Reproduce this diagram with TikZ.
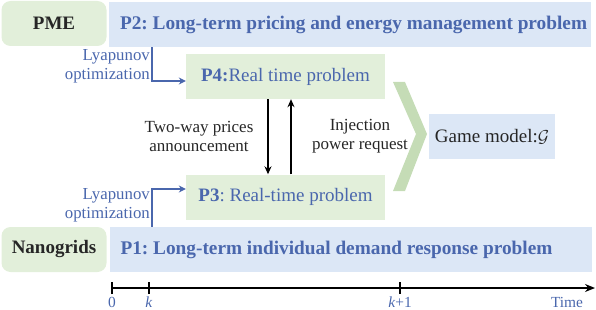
\documentclass[tikz,border=0pt]{standalone}
\usepackage{fontspec}
\setmainfont{Liberation Serif}
\usetikzlibrary{arrows.meta}
\definecolor{tblue}{HTML}{4A67AD}
\definecolor{bfill}{HTML}{DCE7F6}
\definecolor{gfill}{HTML}{E2EFDA}
\definecolor{chev}{HTML}{C5DCB6}
\frenchspacing
\begin{document}
\begin{tikzpicture}[x=1pt,y=-1pt,
  actor/.style={fill=gfill,rounded corners=9pt,minimum width=105pt,minimum height=45pt,inner sep=0pt,font=\fontsize{19}{19}\selectfont\bfseries,text=black!85},
  longbox/.style={fill=bfill,minimum width=482pt,minimum height=45pt,inner sep=0pt},
  longtext/.style={anchor=west,inner sep=0pt,font=\fontsize{19.3}{20}\selectfont\bfseries,text=tblue},
  rtbox/.style={fill=gfill,minimum width=199pt,minimum height=45pt,inner sep=0pt,font=\fontsize{19}{19}\selectfont,text=tblue},
  lyap/.style={align=right,font=\fontsize{16.8}{19}\selectfont,text=tblue,inner sep=0pt},
  lbl/.style={align=center,font=\fontsize{17}{19}\selectfont,text=black!85,inner sep=0pt},
  barrow/.style={line width=1.3pt,-{Stealth[length=8pt,width=7pt]}},
  larrow/.style={draw=tblue,line width=1.2pt,-{Stealth[length=7pt,width=7pt]}},
  tlbl/.style={font=\fontsize{15.4}{15.4}\selectfont,text=tblue,inner sep=0pt}
]
\useasboundingbox (0,0) rectangle (596,310);
% actors
\node[actor] (pme) at (54,23.5) {PME};
\node[actor] (nano) at (54,249.5) {Nanogrids};
% long-term boxes
\node[longbox] (p2) at (350,24.5) {};
\node[longtext] (p2t) at ([xshift=11pt]p2.west) {P2: Long-term pricing and energy management problem};
\node[longbox] (p1) at (350.5,249.5) {};
\node[longtext] (p1t) at ([xshift=11pt]p1.west) {P1: Long-term individual demand response problem};
% real-time boxes
\node[rtbox] (p4) at (285.5,76.5) {\textbf{P4:}Real time problem};
\node[rtbox] (p3) at (285.5,197) {\textbf{P3}: Real-time problem};
% game model
\node[fill=bfill,minimum width=126pt,minimum height=45pt,inner sep=0pt,font=\fontsize{19}{19}\selectfont,text=black!85] (game) at (492,136.5) {Game model:$\mathcal{G}$};
% chevron
\fill[chev] (393,82) -- (405,82) -- (427,134) -- (405,191) -- (393,191) -- (416,134) -- cycle;
% lyapunov labels
\node[lyap,anchor=east] (ly1) at (150,66.5) {Lyapunov\\optimization};
\node[lyap,anchor=east] (ly2) at (150,205.5) {Lyapunov\\optimization};
\coordinate (a1) at (152,81);
\coordinate (a2) at (152,189);
\draw[larrow] (p2.south -| a1) -- (a1) -- (p4.west |- a1);
\draw[larrow] (p1.north -| a2) -- (a2) -- (p3.west |- a2);
% exchange arrows
\coordinate (dx) at (268,0);
\coordinate (ux) at (291,0);
\draw[barrow] (p4.south -| dx) -- (p3.north -| dx);
\draw[barrow] (p3.north -| ux) -- (p4.south -| ux);
\node[lbl] (twl) at (199,136) {Two-way prices\\announcement};
\node[lbl] (inl) at (360,136) {Injection\\power request};
% timeline
\coordinate (t0) at (112,288);
\coordinate (tk) at (149,288);
\coordinate (tk1) at (400,288);
\coordinate (tend) at (595,288);
\draw[line width=1.5pt,-{Stealth[length=10pt,width=8pt]}] (t0) -- (tend);
\foreach \c in {t0,tk,tk1} \draw[line width=1.3pt] ([yshift=-6pt]\c) -- ([yshift=6pt]\c);
\node[tlbl] (l0) at (112,302.5) {0};
\node[tlbl] (lk) at (149,302.5) {\textit{k}};
\node[tlbl] (lk1) at (400,302.5) {\textit{k}+1};
\node[tlbl] (lt) at (567,302.5) {Time};
\end{tikzpicture}
\end{document}
